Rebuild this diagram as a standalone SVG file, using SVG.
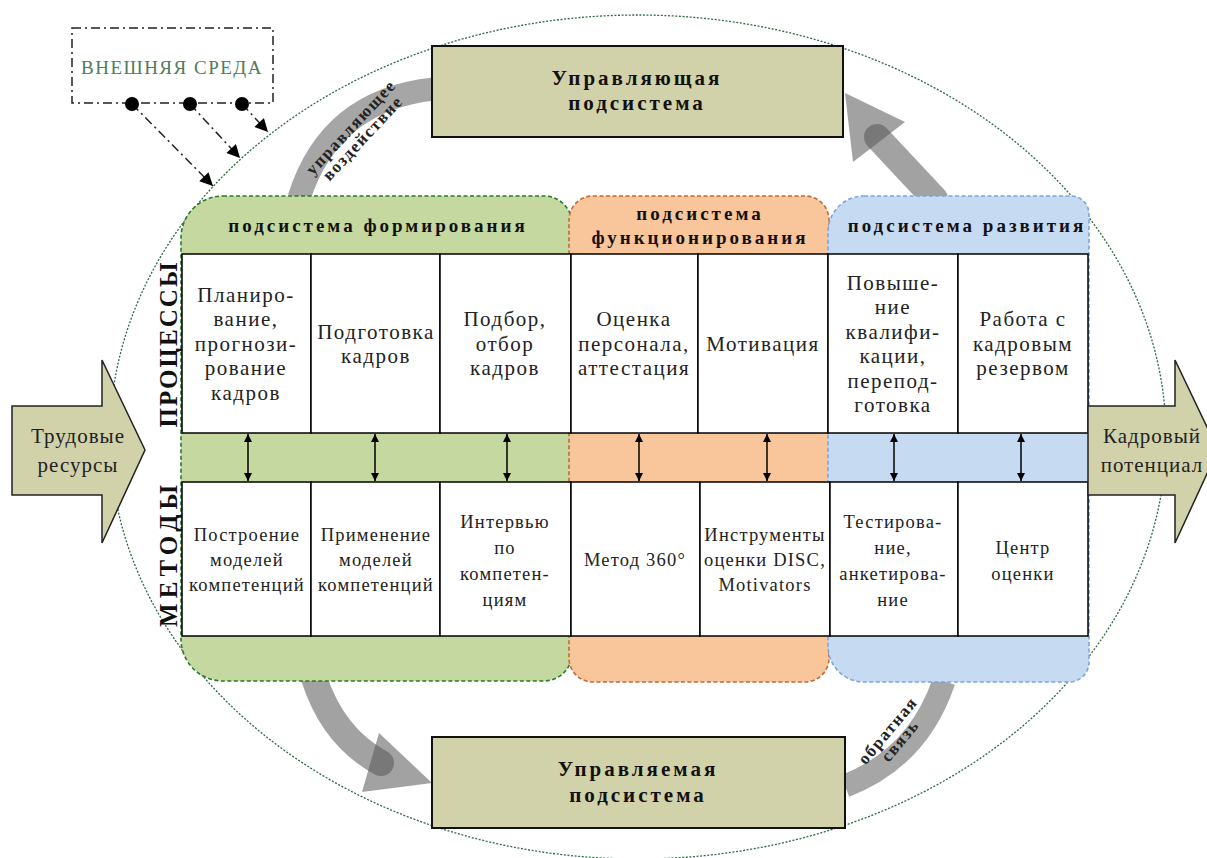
<svg xmlns="http://www.w3.org/2000/svg" width="1207" height="858" viewBox="0 0 1207 858">
<style>
.t{font-family:"Liberation Serif","Times New Roman",serif;fill:#222;text-anchor:middle}
.proc{font-size:21px;letter-spacing:1.5px}
.meth{font-size:18.5px;letter-spacing:1.2px}
.hdr{font-size:19px;font-weight:bold;letter-spacing:3px;fill:#111}
.box{font-size:21px;font-weight:bold;letter-spacing:3px;fill:#111}
.band{font-size:17px;font-weight:bold;letter-spacing:1.5px;fill:#222}
.side{font-size:21px;letter-spacing:1px}
.vlab{font-size:25px;font-weight:bold;fill:#111}
.cell{fill:#fff;stroke:#000;stroke-width:1.5}
.beige{fill:#d1d1aa;stroke:#111;stroke-width:2}
.dbl{stroke:#000;stroke-width:1.5;marker-start:url(#sm);marker-end:url(#sm)}
.env{stroke:#222;stroke-width:1.5;stroke-dasharray:9 4 2 4;fill:none}
.flow{fill:none;stroke:#a6a6a6;stroke-width:23}
.ghost{fill:#555;fill-opacity:0.55}
</style>
<defs>
<marker id="sm" viewBox="0 0 10 10" refX="10" refY="5" markerWidth="8" markerHeight="8" markerUnits="userSpaceOnUse" orient="auto-start-reverse">
<path d="M0,0 L10,5 L0,10 Z" fill="#000"/>
</marker>
<marker id="big" viewBox="0 0 10 10" refX="10" refY="5" markerWidth="16" markerHeight="13" markerUnits="userSpaceOnUse" orient="auto">
<path d="M0,0 L10,5 L0,10 Z" fill="#000"/>
</marker>
</defs>
<rect width="1207" height="858" fill="#fff"/>
<ellipse id="boundary" cx="638" cy="437" rx="528" ry="422" fill="none" stroke="#2e6b45" stroke-width="1.3" stroke-dasharray="2 1.6"/>

<g id="flows">
<path class="flow" d="M299,198 Q330,100 434,89"/>
<path class="flow" d="M845,786 Q918,758 944,681"/>
<path d="M935,199 L877,137" fill="none" stroke="#555" stroke-opacity="0.55" stroke-width="26" stroke-linecap="round"/>
<polygon class="ghost" points="845,93 905,122 853,162"/>
<path d="M314,678 Q333,737 381,763" fill="none" stroke="#555" stroke-opacity="0.55" stroke-width="26" stroke-linecap="round"/>
<polygon class="ghost" points="379,733 432,783 362,792"/>
<text class="t band" transform="translate(355,131) rotate(-47)"><tspan x="0" y="0">управляющее</tspan><tspan x="0" y="16">воздействие</tspan></text>
<text class="t band" transform="translate(892,734) rotate(-50)"><tspan x="0" y="0">обратная</tspan><tspan x="0" y="16">связь</tspan></text>
</g>

<g id="sub-formation">
<path d="M223,196 H544 A28,28 0 0 1 572,224 V653 A28,28 0 0 1 544,681 H223 A42,42 0 0 1 181,639 V238 A42,42 0 0 1 223,196 Z" fill="#c4d8a0" stroke="#2a7a2a" stroke-width="1.6" stroke-dasharray="4 2.5"/>
<text class="t hdr" x="378" y="232">подсистема формирования</text>
</g>
<g id="sub-functioning">
<path d="M593,196 H805 A24,24 0 0 1 829,220 V658 A24,24 0 0 1 805,682 H593 A24,24 0 0 1 569,658 V220 A24,24 0 0 1 593,196 Z" fill="#f9c59b" stroke="#c06a35" stroke-width="1.6" stroke-dasharray="4 2.5"/>
<text class="t hdr" x="700" y="220">подсистема</text>
<text class="t hdr" x="700" y="244">функционирования</text>
</g>
<g id="sub-development">
<path d="M864,196 H1071 A18,18 0 0 1 1089,214 V662 A20,20 0 0 1 1069,682 H864 A36,36 0 0 1 828,646 V232 A36,36 0 0 1 864,196 Z" fill="#c6daf1" stroke="#7aa5e0" stroke-width="1.6" stroke-dasharray="4 2.5"/>
<text class="t hdr" x="967" y="232">подсистема развития</text>
</g>

<g id="p1"><rect class="cell" x="182" y="254" width="129" height="179"/>
<text class="t proc"><tspan x="246" y="302">Планиро-</tspan><tspan x="246" y="326">вание,</tspan><tspan x="246" y="351">прогнози-</tspan><tspan x="246" y="375">рование</tspan><tspan x="246" y="400">кадров</tspan></text></g>
<g id="p2"><rect class="cell" x="311" y="254" width="129" height="179"/>
<text class="t proc"><tspan x="376" y="339">Подготовка</tspan><tspan x="376" y="363">кадров</tspan></text></g>
<g id="p3"><rect class="cell" x="440" y="254" width="131" height="179"/>
<text class="t proc"><tspan x="505" y="326">Подбор,</tspan><tspan x="505" y="351">отбор</tspan><tspan x="505" y="375">кадров</tspan></text></g>
<g id="p4"><rect class="cell" x="571" y="254" width="127" height="179"/>
<text class="t proc"><tspan x="634" y="326">Оценка</tspan><tspan x="634" y="351">персонала,</tspan><tspan x="634" y="375">аттестация</tspan></text></g>
<g id="p5"><rect class="cell" x="698" y="254" width="130" height="179"/>
<text class="t proc"><tspan x="763" y="351">Мотивация</tspan></text></g>
<g id="p6"><rect class="cell" x="828" y="254" width="130" height="179"/>
<text class="t proc"><tspan x="893" y="290">Повыше-</tspan><tspan x="893" y="314">ние</tspan><tspan x="893" y="339">квалифи-</tspan><tspan x="893" y="363">кации,</tspan><tspan x="893" y="388">перепод-</tspan><tspan x="893" y="412">готовка</tspan></text></g>
<g id="p7"><rect class="cell" x="958" y="254" width="130" height="179"/>
<text class="t proc"><tspan x="1023" y="326">Работа с</tspan><tspan x="1023" y="351">кадровым</tspan><tspan x="1023" y="375">резервом</tspan></text></g>

<g id="m1"><rect class="cell" x="182" y="482" width="129" height="154"/>
<text class="t meth"><tspan x="247" y="541">Построение</tspan><tspan x="247" y="566">моделей</tspan><tspan x="247" y="591">компетенций</tspan></text></g>
<g id="m2"><rect class="cell" x="311" y="482" width="129" height="154"/>
<text class="t meth"><tspan x="376" y="541">Применение</tspan><tspan x="376" y="566">моделей</tspan><tspan x="376" y="591">компетенций</tspan></text></g>
<g id="m3"><rect class="cell" x="440" y="482" width="131" height="154"/>
<text class="t meth"><tspan x="505" y="528">Интервью</tspan><tspan x="505" y="554">по</tspan><tspan x="505" y="580">компетен-</tspan><tspan x="505" y="606">циям</tspan></text></g>
<g id="m4"><rect class="cell" x="571" y="482" width="129" height="154"/>
<text class="t meth"><tspan x="635" y="566">Метод 360°</tspan></text></g>
<g id="m5"><rect class="cell" x="700" y="482" width="130" height="154"/>
<text class="t meth"><tspan x="765" y="541">Инструменты</tspan><tspan x="765" y="566">оценки DISC,</tspan><tspan x="765" y="591">Motivators</tspan></text></g>
<g id="m6"><rect class="cell" x="830" y="482" width="128" height="154"/>
<text class="t meth"><tspan x="893" y="528">Тестирова-</tspan><tspan x="893" y="554">ние,</tspan><tspan x="893" y="580">анкетирова-</tspan><tspan x="893" y="606">ние</tspan></text></g>
<g id="m7"><rect class="cell" x="958" y="482" width="130" height="154"/>
<text class="t meth"><tspan x="1023" y="554">Центр</tspan><tspan x="1023" y="580">оценки</tspan></text></g>

<g id="label-processes"><text class="t vlab" transform="translate(177,345) rotate(-90)" textLength="165" lengthAdjust="spacing">ПРОЦЕССЫ</text></g>
<g id="label-methods"><text class="t vlab" transform="translate(177,556) rotate(-90)" textLength="142" lengthAdjust="spacing">МЕТОДЫ</text></g>

<g id="control-subsystem"><rect class="beige" x="432" y="46" width="411" height="91"/>
<text class="t box"><tspan x="637" y="85">Управляющая</tspan><tspan x="637" y="110">подсистема</tspan></text></g>
<g id="managed-subsystem"><rect class="beige" x="432" y="737" width="413" height="91"/>
<text class="t box"><tspan x="638" y="776">Управляемая</tspan><tspan x="638" y="802">подсистема</tspan></text></g>

<g id="labor-resources"><polygon points="12,406 102,406 102,360 145,450 102,543 102,495 12,495" fill="#d1d1aa" stroke="#222" stroke-width="1.5"/>
<text class="t side"><tspan x="78" y="443">Трудовые</tspan><tspan x="78" y="472">ресурсы</tspan></text></g>
<g id="personnel-potential"><polygon points="1088,406 1175,406 1175,360 1218,450 1175,543 1175,495 1088,495" fill="#d1d1aa" stroke="#222" stroke-width="1.5"/>
<text class="t side"><tspan x="1152" y="443">Кадровый</tspan><tspan x="1152" y="472">потенциал</tspan></text></g>

<g id="external-environment">
<rect x="72" y="28" width="201" height="75" fill="#fff" class="env"/>
<text class="t" x="172" y="74" style="font-size:19px;letter-spacing:1.5px;fill:#4d7d5d">ВНЕШНЯЯ СРЕДА</text>
</g>

<g id="connectors">
<line class="env" x1="132" y1="104" x2="213" y2="186" marker-end="url(#big)"/>
<line class="env" x1="190" y1="104" x2="240" y2="158" marker-end="url(#big)"/>
<line class="env" x1="242" y1="104" x2="268" y2="132" marker-end="url(#big)"/>
<circle cx="132" cy="104" r="7" fill="#000"/>
<circle cx="190" cy="104" r="7" fill="#000"/>
<circle cx="242" cy="104" r="7" fill="#000"/>
<line class="dbl" x1="248" y1="434" x2="248" y2="481"/>
<line class="dbl" x1="375" y1="434" x2="375" y2="481"/>
<line class="dbl" x1="507" y1="434" x2="507" y2="481"/>
<line class="dbl" x1="639" y1="434" x2="639" y2="481"/>
<line class="dbl" x1="767" y1="434" x2="767" y2="481"/>
<line class="dbl" x1="894" y1="434" x2="894" y2="481"/>
<line class="dbl" x1="1021" y1="434" x2="1021" y2="481"/>
</g>
</svg>
